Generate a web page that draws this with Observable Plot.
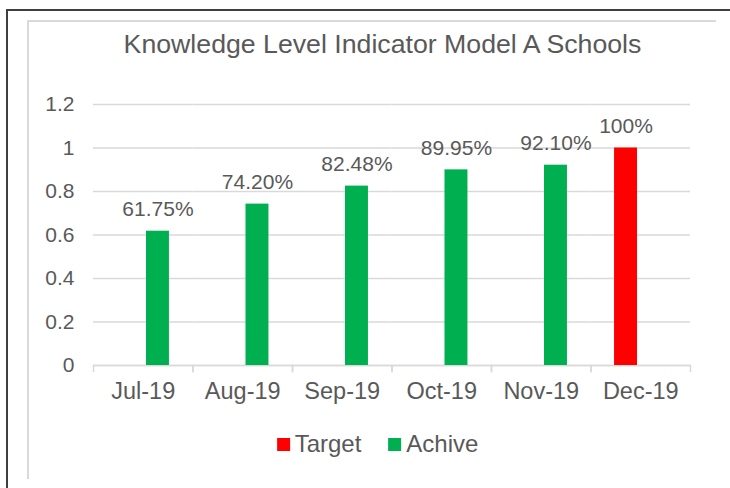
<!DOCTYPE html>
<html>
<head>
<meta charset="utf-8">
<script src="https://cdn.jsdelivr.net/npm/d3@7"></script>
<script src="https://cdn.jsdelivr.net/npm/@observablehq/plot@0.6"></script>
<style>
  html, body { margin: 0; padding: 0; background: #fff; overflow: hidden; }
  #page { position: relative; width: 730px; height: 488px; overflow: hidden; font-family: 'Liberation Sans', Arial, sans-serif; color: #595959; }
  #outer { position: absolute; left: 6px; top: 9px; width: 800px; height: 600px; border: 2px solid #3f3f3f; box-sizing: border-box; }
  #inner { position: absolute; left: 27px; top: 20px; width: 689px; height: 459px; border-top: 2px solid #d9d9d9; border-left: 2px solid #d9d9d9; box-sizing: border-box; }
  #chart { position: absolute; left: 0; top: 0; }
  #title { position: absolute; left: 382.5px; top: 29px; transform: translateX(-50%); white-space: nowrap; font-size: 26.7px; line-height: 30px; }
  #legend { position: absolute; left: 377.5px; top: 431px; transform: translateX(-50%); display: flex; align-items: center; white-space: nowrap; font-size: 24px; line-height: 26px; }
  .item { display: flex; align-items: center; }
  .sw { width: 13px; height: 13px; margin-right: 5px; }
</style>
</head>
<body>
<div id="page">
  <div id="outer"></div>
  <div id="inner"></div>
  <div id="chart"></div>
  <div id="title">Knowledge Level Indicator Model A Schools</div>
  <div id="legend"></div>
</div>
<script>
const months = ["Jul-19", "Aug-19", "Sep-19", "Oct-19", "Nov-19", "Dec-19"];
const series = ["Target", "Achive"];
const seriesColors = ["#ff0000", "#00b050"];
const targetValues = [null, null, null, null, null, 1.0];
const targetLabels = [null, null, null, null, null, "100%"];
const achiveValues = [0.6175, 0.742, 0.8248, 0.8995, 0.921, null];
const achiveLabels = ["61.75%", "74.20%", "82.48%", "89.95%", "92.10%", null];
const yTicks = [0, 0.2, 0.4, 0.6, 0.8, 1, 1.2];

const rows = [];
months.forEach((m, i) => {
  if (targetValues[i] != null) rows.push({month: m, series: "Target", value: targetValues[i], label: targetLabels[i]});
  if (achiveValues[i] != null) rows.push({month: m, series: "Achive", value: achiveValues[i], label: achiveLabels[i]});
});

const grid = "#d9d9d9";
const chart = Plot.plot({
  width: 730,
  height: 420,
  marginTop: 104,
  marginBottom: 55,
  marginLeft: 93,
  marginRight: 40,
  style: {fontFamily: "'Liberation Sans', Arial, sans-serif", color: "#595959", background: "transparent", overflow: "visible"},
  fx: {domain: months, padding: 0, round: false, label: null},
  x: {domain: series, paddingInner: 0.22, paddingOuter: 0.8, round: false, axis: null},
  y: {domain: [0, 1.2], axis: null},
  color: {domain: series, range: seriesColors},
  marks: [
    Plot.gridY(yTicks, {stroke: grid, strokeOpacity: 1, strokeWidth: 1.5}),
    Plot.axisY(yTicks, {tickSize: 0, tickPadding: 19, fontSize: 21, tickFormat: d => String(d), label: null}),
    Plot.axisFx({anchor: "bottom", tickSize: 0, tickPadding: 17, fontSize: 23.5, label: null}),
    Plot.frame({anchor: "left", stroke: grid, strokeWidth: 1.5, insetTop: 261, insetBottom: -6}),
    Plot.frame({anchor: "right", stroke: grid, strokeWidth: 1.5, insetTop: 261, insetBottom: -6}),
    Plot.ruleY([0], {stroke: grid, strokeWidth: 1.5}),
    Plot.barY(rows, {fx: "month", x: "series", y: "value", fill: "series"}),
    Plot.text(rows, {fx: "month", x: "series", y: "value", text: "label", dy: -22, fontSize: 21})
  ]
});
document.getElementById("chart").appendChild(chart);

const legend = document.getElementById("legend");
series.forEach((s, i) => {
  const item = document.createElement("div");
  item.className = "item";
  if (i > 0) item.style.marginLeft = "27px";
  const sw = document.createElement("span");
  sw.className = "sw";
  sw.style.background = seriesColors[i];
  const t = document.createElement("span");
  t.textContent = s;
  item.appendChild(sw);
  item.appendChild(t);
  legend.appendChild(item);
});
</script>
</body>
</html>
